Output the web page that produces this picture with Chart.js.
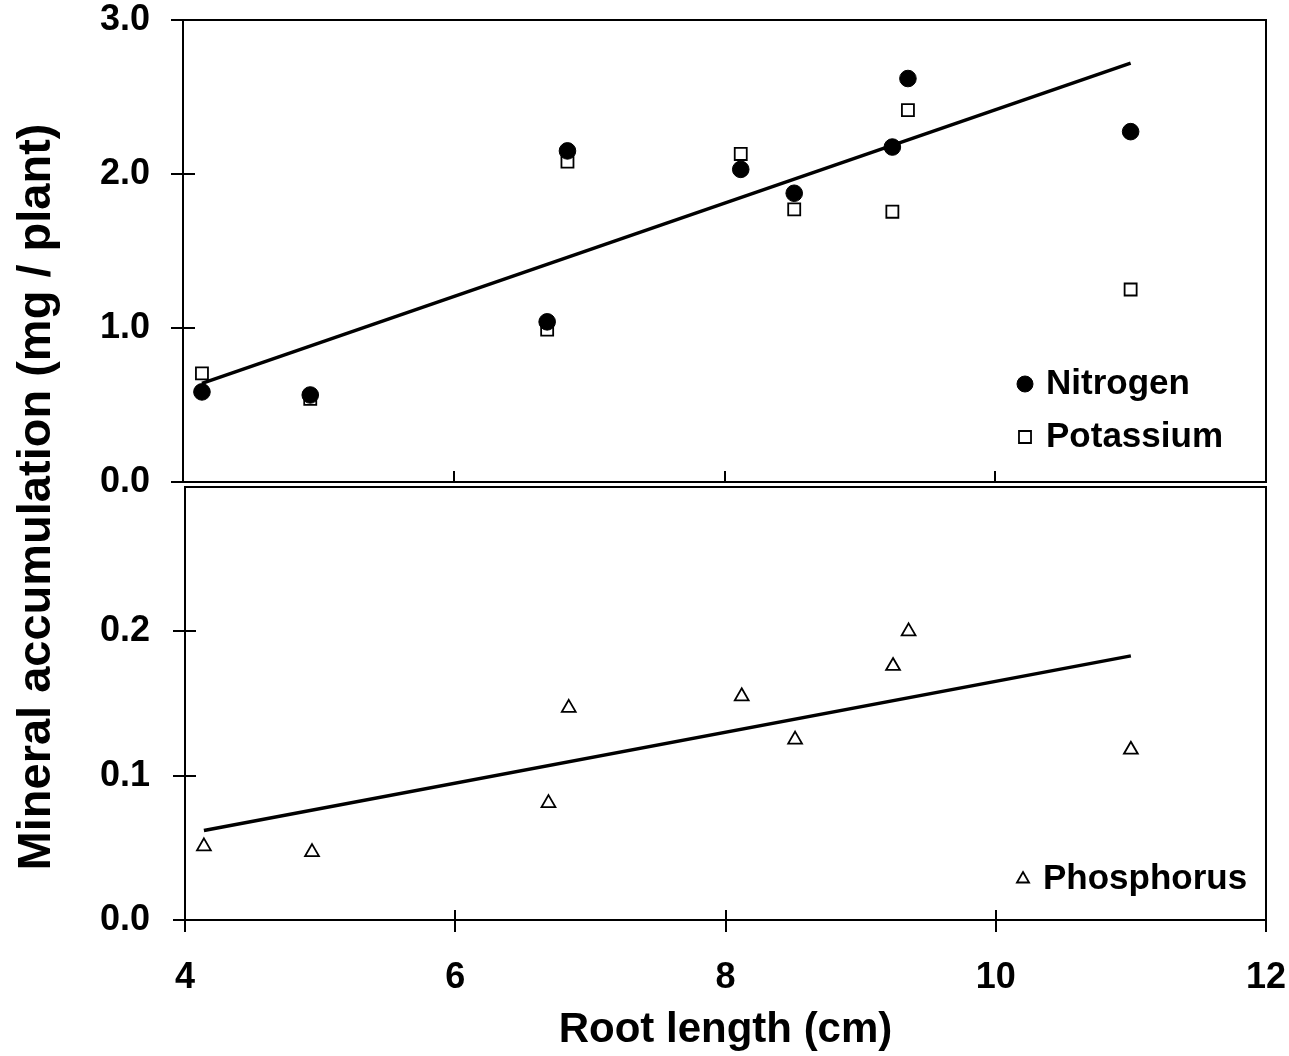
<!DOCTYPE html>
<html>
<head>
<meta charset="utf-8">
<title>Mineral accumulation vs root length</title>
<script src="https://cdn.jsdelivr.net/npm/chart.js@4.4.1/dist/chart.umd.min.js"></script>
<style>
  html, body { margin: 0; padding: 0; background: #fff; }
  #wrap { position: relative; width: 1289px; height: 1056px; }
  #wrap canvas { position: absolute; left: 0; top: 0; }
</style>
</head>
<body>
<div id="wrap">
  <canvas id="top-chart" width="1289" height="1056"></canvas>
  <canvas id="bottom-chart" width="1289" height="1056"></canvas>
</div>
<script>
// Root length of each plant (cm), shared by both panels
const rootLength = [4.14, 4.94, 6.69, 6.84, 8.12, 8.515, 9.24, 9.355, 11.0];

// Accumulation per plant (mg)
const nitrogen   = [0.585, 0.565, 1.04, 2.15, 2.03, 1.875, 2.175, 2.62, 2.275];
const potassium  = [0.705, 0.54, 0.99, 2.08, 2.13, 1.77, 1.755, 2.415, 1.25];
const phosphorus = [0.051, 0.047, 0.081, 0.147, 0.155, 0.125, 0.176, 0.2, 0.118];

// Regression lines (end points)
const topFitX = [4.14, 11.0];
const topFitY = [0.64, 2.72];
const bottomFitX = [4.14, 11.0];
const bottomFitY = [0.062, 0.183];

// Axis ticks
const xTicks = [4, 6, 8, 10, 12];
const yTicksTop = [0, 1, 2, 3];
const yTicksBottom = [0, 0.1, 0.2];

const FONT = "'Liberation Sans', Arial, Helvetica, sans-serif";
Chart.defaults.font.family = FONT;
Chart.defaults.color = '#000';

function toPoints(xs, ys) {
    return xs.map((x, i) => ({ x: x, y: ys[i] }));
}

// Box around the plot area, crossing tick marks, inline legend and shared y title
const framePlugin = {
    id: 'frame',
    afterDraw(chart, args, opts) {
        const { ctx, chartArea: a, scales: { x, y } } = chart;
        ctx.save();
        ctx.strokeStyle = '#000';
        ctx.lineWidth = 2;
        ctx.strokeRect(a.left, a.top, a.right - a.left, a.bottom - a.top);

        ctx.beginPath();
        y.ticks.forEach(t => {
            const py = Math.round(y.getPixelForValue(t.value));
            ctx.moveTo(a.left - opts.yOut, py);
            ctx.lineTo(a.left + opts.yIn, py);
        });
        x.ticks.forEach(t => {
            const px = Math.round(x.getPixelForValue(t.value));
            ctx.moveTo(px, a.bottom - opts.xIn);
            ctx.lineTo(px, a.bottom + opts.xOut);
        });
        ctx.stroke();

        // legend entries for the marker series
        const lg = opts.legend;
        const series = chart.data.datasets.filter(d => d.type !== 'line');
        series.forEach((ds, i) => {
            const cy = a.bottom + lg.dy + i * lg.rowGap;
            ctx.fillStyle = ds.backgroundColor;
            ctx.strokeStyle = ds.borderColor;
            ctx.lineWidth = ds.borderWidth;
            Chart.helpers.drawPoint(ctx, {
                pointStyle: ds.pointStyle,
                radius: lg.markerRadius[i],
                borderWidth: ds.borderWidth,
                rotation: 0
            }, a.right + lg.markerDx, cy);
            ctx.fillStyle = '#000';
            ctx.font = 'bold 35px ' + FONT;
            ctx.textAlign = 'left';
            ctx.textBaseline = 'middle';
            ctx.fillText(ds.label, a.right + lg.textDx, cy);
        });

        if (opts.yTitle) {
            ctx.translate(opts.yTitle.x, opts.yTitle.y);
            ctx.rotate(-Math.PI / 2);
            ctx.fillStyle = '#000';
            ctx.font = 'bold 47px ' + FONT;
            ctx.textAlign = 'center';
            ctx.textBaseline = 'middle';
            ctx.fillText(opts.yTitle.text, 0, 0);
        }
        ctx.restore();
    }
};

const tickFont = { family: FONT, size: 36, weight: 'bold', lineHeight: 1 };

function yAxis(min, max, ticks, width, pad) {
    return {
        type: 'linear',
        min: min,
        max: max,
        grid: { display: false },
        border: { display: false },
        afterBuildTicks: s => { s.ticks = ticks.map(v => ({ value: v })); },
        ticks: {
            font: tickFont,
            color: '#000',
            padding: pad,
            callback: v => Number(v).toFixed(1)
        },
        afterFit: s => {
            s.width = width;
            s.paddingTop = s.paddingBottom = s.paddingLeft = s.paddingRight = 0;
        }
    };
}

// Upper panel: nitrogen and potassium
new Chart(document.getElementById('top-chart'), {
    type: 'scatter',
    data: {
        datasets: [
            {
                label: 'Nitrogen',
                data: toPoints(rootLength, nitrogen),
                pointStyle: 'circle',
                pointRadius: 8.3,
                backgroundColor: '#000',
                borderColor: '#000',
                borderWidth: 1,
                order: 0
            },
            {
                label: 'Potassium',
                data: toPoints(rootLength, potassium),
                pointStyle: 'rect',
                pointRadius: 8.5,
                backgroundColor: '#fff',
                borderColor: '#000',
                borderWidth: 1.8,
                order: 1
            },
            {
                type: 'line',
                label: 'fit',
                data: toPoints(topFitX, topFitY),
                borderColor: '#000',
                borderWidth: 3.5,
                pointRadius: 0,
                order: 2
            }
        ]
    },
    options: {
        responsive: false,
        animation: false,
        events: [],
        layout: { padding: { left: 0, top: 20, right: 23, bottom: 1056 - 482 } },
        plugins: {
            legend: { display: false },
            tooltip: { enabled: false },
            frame: {
                yOut: 12, yIn: 12, xIn: 11, xOut: 0,
                legend: { dy: -98, rowGap: 53, markerDx: -241, textDx: -220, markerRadius: [8, 8.5] }
            }
        },
        scales: {
            x: {
                type: 'linear',
                min: 4,
                max: 12,
                grid: { display: false },
                border: { display: false },
                afterBuildTicks: s => { s.ticks = xTicks.map(v => ({ value: v })); },
                ticks: { display: false },
                afterFit: s => {
                    s.height = 0;
                    s.paddingTop = s.paddingBottom = s.paddingLeft = s.paddingRight = 0;
                }
            },
            y: yAxis(0, 3, yTicksTop, 183, 25)
        }
    },
    plugins: [framePlugin]
});

// Lower panel: phosphorus
new Chart(document.getElementById('bottom-chart'), {
    type: 'scatter',
    data: {
        datasets: [
            {
                label: 'Phosphorus',
                data: toPoints(rootLength, phosphorus),
                pointStyle: 'triangle',
                pointRadius: 8,
                backgroundColor: '#fff',
                borderColor: '#000',
                borderWidth: 1.8,
                order: 0
            },
            {
                type: 'line',
                label: 'fit',
                data: toPoints(bottomFitX, bottomFitY),
                borderColor: '#000',
                borderWidth: 3.5,
                pointRadius: 0,
                order: 1
            }
        ]
    },
    options: {
        responsive: false,
        animation: false,
        events: [],
        layout: { padding: { left: 0, top: 487, right: 23, bottom: 0 } },
        plugins: {
            legend: { display: false },
            tooltip: { enabled: false },
            frame: {
                yOut: 12, yIn: 11, xIn: 10, xOut: 12,
                legend: { dy: -41, rowGap: 0, markerDx: -243, textDx: -223, markerRadius: [7] },
                yTitle: { text: 'Mineral accumulation (mg / plant)', x: 37, y: 497 }
            }
        },
        scales: {
            x: {
                type: 'linear',
                min: 4,
                max: 12,
                grid: { display: false },
                border: { display: false },
                afterBuildTicks: s => { s.ticks = xTicks.map(v => ({ value: v })); },
                ticks: { font: tickFont, color: '#000', padding: 32, maxRotation: 0 },
                title: {
                    display: true,
                    text: 'Root length (cm)',
                    color: '#000',
                    font: { family: FONT, size: 42, weight: 'bold', lineHeight: 1 },
                    padding: { top: 0, bottom: 5 }
                },
                afterFit: s => {
                    s.height = 136;
                    s.paddingTop = s.paddingBottom = s.paddingLeft = s.paddingRight = 0;
                }
            },
            y: yAxis(0, 0.3, yTicksBottom, 185, 27)
        }
    },
    plugins: [framePlugin]
});
</script>
</body>
</html>
